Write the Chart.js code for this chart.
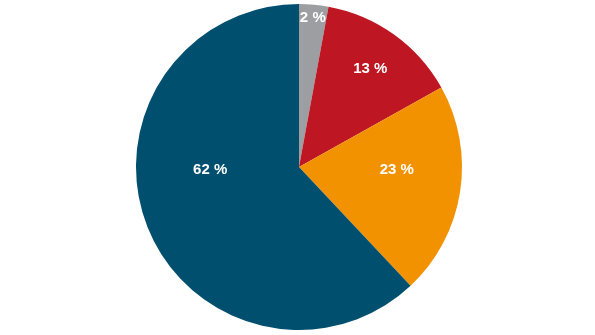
<!DOCTYPE html>
<html>
<head>
<meta charset="utf-8">
<script src="https://cdn.jsdelivr.net/npm/chart.js@4/dist/chart.umd.min.js"></script>
<style>
html,body{margin:0;padding:0;background:#fff;}
#wrap{width:595px;height:335px;}
</style>
</head>
<body>
<div id="wrap"><canvas id="c" width="595" height="335"></canvas></div>
<script>
const categories = ["Grau", "Rot", "Orange", "Blau"];
const values = [2.9, 14.0, 21.1, 62.0];
const valueLabels = ["2 %", "13 %", "23 %", "62 %"];

const colors = ["#9c9ea1", "#be1622", "#f39200", "#004f6e"];
// label placement: [angle in degrees from top clockwise, or null for slice middle; fraction of radius]
const labelPlacement = [[null, 0.93], [null, 0.75], [91, 0.60], [269, 0.545]];

const labelPlugin = {
  id: 'sliceLabels',
  afterDatasetsDraw(chart) {
    const ctx = chart.ctx;
    const meta = chart.getDatasetMeta(0);
    ctx.save();
    ctx.fillStyle = '#ffffff';
    ctx.font = 'bold 15px "Liberation Sans", Arial, sans-serif';
    ctx.textAlign = 'center';
    ctx.textBaseline = 'middle';
    meta.data.forEach((arc, i) => {
      const p = arc.getProps(['x','y','startAngle','endAngle','outerRadius'], true);
      const pl = labelPlacement[i];
      let ang = pl[0] === null ? (p.startAngle + p.endAngle) / 2 : (pl[0] - 90) * Math.PI / 180;
      const r = p.outerRadius * pl[1];
      ctx.fillText(valueLabels[i], p.x + Math.cos(ang) * r, p.y + Math.sin(ang) * r + 1.5);
    });
    ctx.restore();
  }
};

new Chart(document.getElementById('c'), {
  type: 'pie',
  data: {
    labels: categories,
    datasets: [{
      data: values,
      backgroundColor: colors,
      borderWidth: 0
    }]
  },
  options: {
    responsive: false,
    animation: false,
    layout: { padding: { top: 4, bottom: 5, left: 3, right: 0 } },
    plugins: { legend: { display: false }, tooltip: { enabled: false } }
  },
  plugins: [labelPlugin]
});
</script>
</body>
</html>
